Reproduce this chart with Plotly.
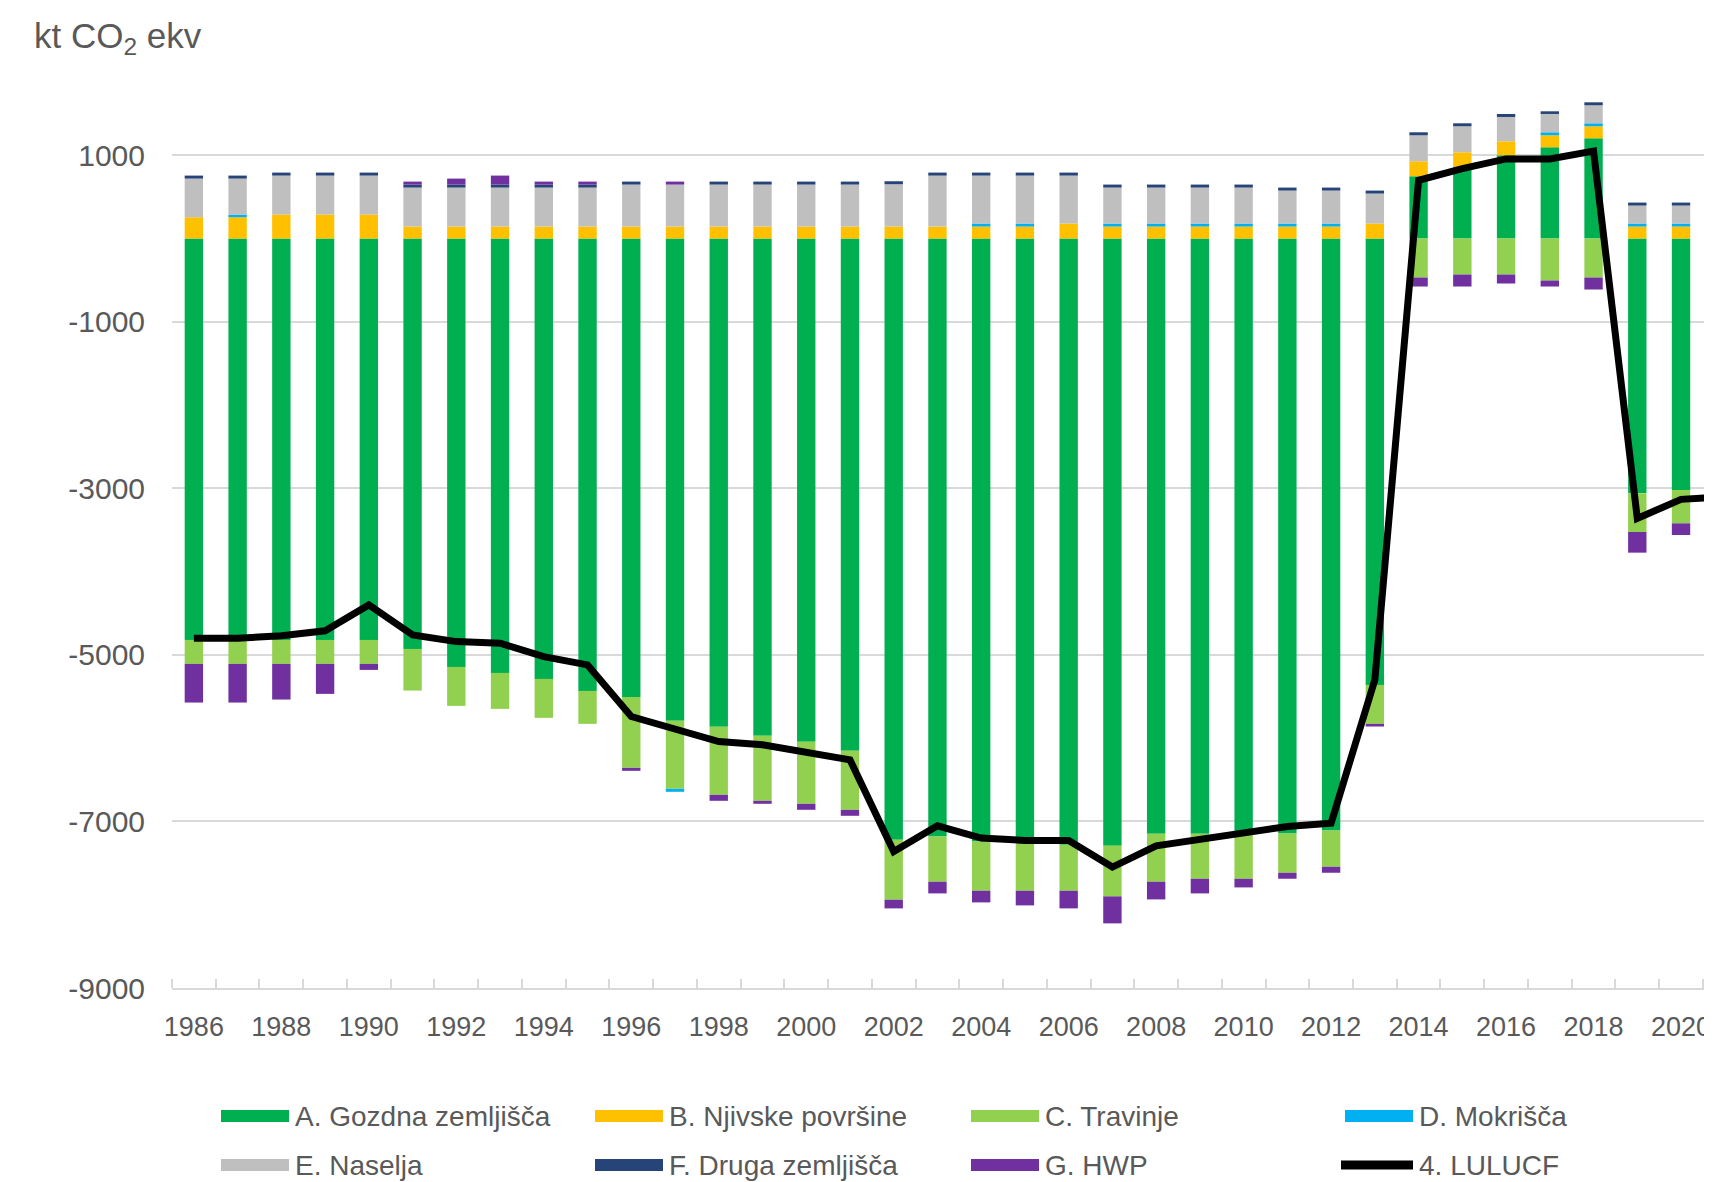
import plotly.graph_objects as go

years = list(range(1986, 2022))

gozdna = [-4820, -4820, -4820, -4820, -4820, -4928, -5144, -5216, -5288, -5432, -5504, -5792,
          -5864, -5972, -6044, -6152, -7220, -7180, -7240, -7260, -7280, -7292, -7148, -7148,
          -7120, -7144, -7108, -5360, 748, 856, 1000, 1096, 1204, -3060, -3020, None]
njivske = [256, 256, 288, 288, 288, 144, 144, 144, 144, 144, 144, 144,
           144, 144, 144, 144, 144, 144, 144, 144, 180, 144, 144, 144,
           144, 144, 144, 180, 180, 180, 168, 144, 144, 144, 144, None]
travinje = [-288, -288, -288, -288, -288, -500, -468, -432, -468, -396, -852, -816,
            -816, -780, -744, -708, -720, -544, -592, -572, -552, -608, -576, -540,
            -568, -472, -436, -468, -468, -432, -432, -504, -468, -464, -400, None]
mokrisca = [0, 32, 0, 0, 0, 0, 0, 0, 0, 0, 0, -36,
            0, 0, 0, 0, 0, 0, 36, 36, 0, 36, 36, 36,
            36, 36, 36, 0, 0, 0, 0, 36, 36, 36, 36, None]
naselja = [464, 432, 468, 468, 468, 468, 468, 468, 468, 468, 504, 504,
           504, 504, 504, 504, 508, 612, 576, 576, 576, 432, 432, 432,
           432, 396, 396, 360, 312, 312, 292, 220, 216, 216, 216, None]
druga = [36, 36, 36, 36, 36, 36, 36, 36, 36, 36, 36, 0,
         36, 36, 36, 36, 36, 36, 36, 36, 36, 36, 36, 36,
         36, 36, 36, 36, 36, 36, 36, 32, 36, 36, 36, None]
hwp = [-464, -464, -428, -360, -72, 36, 72, 108, 36, 36, -36, 36,
       -72, -36, -72, -72, -104, -140, -140, -176, -212, -324, -212, -176,
       -104, -72, -72, -32, -108, -144, -108, -72, -144, -248, -140, None]
lulucf = [-4800, -4800, -4770, -4710, -4400, -4760, -4840, -4860, -5020, -5120, -5740, -5900,
          -6040, -6080, -6160, -6260, -7360, -7052, -7200, -7228, -7228, -7548, -7292, -7220,
          -7148, -7060, -7020, -5300, 700, 840, 956, 956, 1050, -3360, -3132, -3100]

bar_names = ["A. Gozdna zemljišča", "B. Njivske površine", "C. Travinje", "D. Mokrišča",
             "E. Naselja", "F. Druga zemljišča", "G. HWP"]
bar_colors = ["#00B050", "#FFC000", "#92D050", "#00B0F0", "#BFBFBF", "#264478", "#7030A0"]
bar_values = [gozdna, njivske, travinje, mokrisca, naselja, druga, hwp]
line_name = "4. LULUCF"

y_ticks = [1000, -1000, -3000, -5000, -7000, -9000]
y_ticktext = [str(v) for v in y_ticks]

FONT = "Liberation Sans, Arial, sans-serif"
GRAY_TXT = "#595959"
GRID = "#D9D9D9"

fig = go.Figure()
for name, col, vals in zip(bar_names, bar_colors, bar_values):
    fig.add_trace(go.Bar(x=years, y=vals, name=name, marker=dict(color=col, line=dict(width=0)),
                         showlegend=False))
fig.add_trace(go.Scatter(x=years, y=lulucf, name=line_name, mode="lines",
                         line=dict(color="black", width=7), showlegend=False))

# the page body has an 8px margin: target positions are given in page pixels
OFF = 8
W, H = 1712, 1182
ML, MR, MT = 172 - OFF, 0, 72 - OFF
MB = H - (988 - OFF)
pw, ph = W - ML - MR, H - MT - MB


def px(xp):
    return (xp - OFF - ML) / pw


def py(yp):
    return (H - MB - (yp - OFF)) / ph


# manual legend (Excel style wide swatches)
col_x = [221, 595, 971, 1345]
row_y = [1116, 1165]
legend_items = [(n, c, "bar") for n, c in zip(bar_names, bar_colors)] + [(line_name, "black", "line")]
shapes = []
annotations = []
for i, (name, color, kind) in enumerate(legend_items):
    r, c = divmod(i, 4)
    x0 = col_x[c]
    yc = row_y[r]
    if kind == "bar":
        shapes.append(dict(type="rect", xref="paper", yref="paper",
                           x0=px(x0), x1=px(x0 + 68), y0=py(yc - 6), y1=py(yc + 6),
                           fillcolor=color, line=dict(width=0)))
    else:
        shapes.append(dict(type="line", xref="paper", yref="paper",
                           x0=px(x0 - 4), x1=px(x0 + 68), y0=py(yc), y1=py(yc),
                           line=dict(color=color, width=9)))
    annotations.append(dict(text=name, xref="paper", yref="paper", x=px(x0 + 72), y=py(yc),
                            xanchor="left", yanchor="middle", showarrow=False,
                            font=dict(family=FONT, size=28, color=GRAY_TXT)))

annotations.append(dict(text="kt CO<sub>2</sub> ekv", xref="paper", yref="paper",
                        x=px(32), y=py(38), xanchor="left", yanchor="middle", showarrow=False,
                        font=dict(family=FONT, size=35, color=GRAY_TXT)))

fig.update_layout(
    width=W, height=H,
    margin=dict(l=ML, r=MR, t=MT, b=MB, pad=0),
    paper_bgcolor="white", plot_bgcolor="white",
    barmode="relative", bargap=0.58,
    shapes=shapes, annotations=annotations,
    font=dict(family=FONT, color=GRAY_TXT),
    xaxis=dict(range=[1985.5, 1985.5 + pw / 43.74], tickmode="linear", tick0=1986, dtick=2,
               ticks="", showgrid=False, zeroline=False,
               showline=True, linecolor=GRID, linewidth=2,
               tickfont=dict(family=FONT, size=27, color=GRAY_TXT), ticklabelstandoff=14,
               minor=dict(ticks="inside", ticklen=9, tickwidth=2, tickcolor=GRID,
                          tick0=1985.5, dtick=1, showgrid=False)),
    yaxis=dict(range=[-9000, 2000], tickmode="array", tickvals=y_ticks, ticktext=y_ticktext,
               showgrid=True, gridcolor=GRID, gridwidth=2, zeroline=False, showline=False,
               ticks="", tickfont=dict(family=FONT, size=30, color=GRAY_TXT),
               ticklabelstandoff=26),
)

fig.write_html("out.html")
